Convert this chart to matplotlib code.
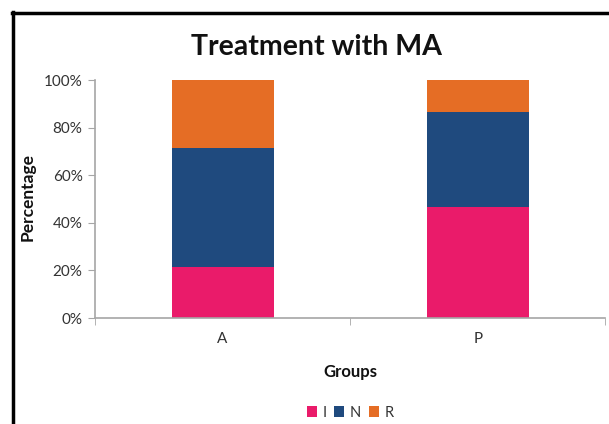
import matplotlib
matplotlib.use("Agg")
import matplotlib.pyplot as plt
from matplotlib.lines import Line2D
from matplotlib.patches import Patch
import numpy as np

groups = ["A", "P"]
series = ["I", "N", "R"]
i_vals = [21.4, 46.7]
n_vals = [50.0, 40.0]
r_vals = [28.6, 13.3]
colors = ["#EA1B6A", "#1F4A7E", "#E56D25"]
yticks = [0, 20, 40, 60, 80, 100]
ytick_labels = ["0%", "20%", "40%", "60%", "80%", "100%"]

plt.rcParams["font.family"] = ["Lato", "DejaVu Sans"]

fig = plt.figure(figsize=(6.09, 4.24), dpi=100)
ax = fig.add_axes([0.156, 0.25, 0.838, 0.561])

x = np.arange(len(groups))
bottom = np.zeros(len(groups))
for name, vals, c in zip(series, [i_vals, n_vals, r_vals], colors):
    ax.bar(x, vals, width=0.4, bottom=bottom, color=c, label=name, zorder=2)
    bottom += np.array(vals)

ax.set_xlim(-0.5, 1.5)
ax.set_ylim(0, 100)
ax.set_yticks(yticks)
ax.set_yticklabels(ytick_labels)
ax.set_xticks(x)
ax.set_xticklabels(groups)
ax.set_xticks([-0.5, 0.5, 1.5], minor=True)

grey = "#A6A6A6"
for s in ["top", "right"]:
    ax.spines[s].set_visible(False)
for s in ["left", "bottom"]:
    ax.spines[s].set_color(grey)
    ax.spines[s].set_linewidth(1.2)

ax.tick_params(axis="y", which="major", length=5, color=grey, labelsize=11,
               labelcolor="#333333", pad=4)
ax.tick_params(axis="x", which="major", length=0, labelsize=11,
               labelcolor="#333333", pad=10)
ax.tick_params(axis="x", which="minor", length=5, color=grey)

fig.text(0.519, 0.888, "Treatment with MA", ha="center", va="center",
         fontsize=20.5, fontweight="bold", color="#111111")
fig.text(0.046, 0.535, "Percentage", ha="center", va="center", rotation=90,
         fontsize=12.5, fontweight="bold", color="#111111")
fig.text(0.575, 0.122, "Groups", ha="center", va="center",
         fontsize=12, fontweight="bold", color="#111111")

handles = [Patch(facecolor=c, label=n) for n, c in zip(series, colors)]
fig.legend(handles=handles, loc="center", bbox_to_anchor=(0.575, 0.027),
           ncol=3, frameon=False, fontsize=10.5, handlelength=0.7,
           handleheight=0.7, handletextpad=0.4, columnspacing=0.5,
           labelcolor="#333333")

# outer frame around the chart
fig.add_artist(Line2D([0.021, 0.021], [0.0, 0.971], color="black", lw=2.5,
                      transform=fig.transFigure))
fig.add_artist(Line2D([0.020, 1.0], [0.969, 0.969], color="black", lw=2.5,
                      transform=fig.transFigure))

fig.savefig("out.png", dpi=100)
